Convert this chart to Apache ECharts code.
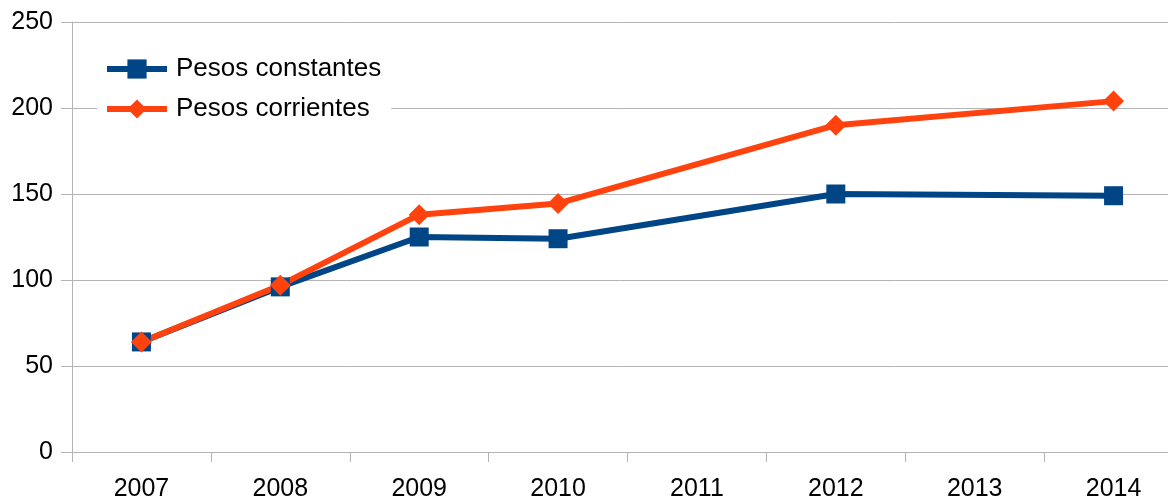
<!DOCTYPE html>
<html><head><meta charset="utf-8">
<script src="https://cdn.jsdelivr.net/npm/echarts@6/dist/echarts.min.js"></script>
<style>html,body{margin:0;padding:0;background:#fff}#c{width:1168px;height:498px}</style>
</head><body><div id="c"></div>
<script>
const years = ['2007','2008','2009','2010','2011','2012','2013','2014'];
const pesosConstantes = [64, 96, 125, 124, null, 150, null, 149];
const pesosCorrientes = [64, 97, 138, 144.5, null, 190, null, 204];
const yTicks = {min: 0, max: 250, interval: 50};

const chart = echarts.init(document.getElementById('c'));
const font = 'Liberation Sans';
chart.setOption({
  animation: false,
  grid: {left: 72, top: 22, bottom: 46, right: -15, containLabel: false, outerBoundsMode: 'none'},
  legend: {
    left: 97, top: 50, orient: 'vertical',
    backgroundColor: '#fff', padding: [6, 10, 6, 7],
    itemWidth: 60, itemHeight: 24, itemGap: 14,
    lineStyle: {width: 6},
    textStyle: {fontFamily: font, fontSize: 26, lineHeight: 24, color: '#000', padding: [0,0,0,4]},
    data: ['Pesos constantes', 'Pesos corrientes']
  },
  xAxis: {
    type: 'category', data: years, boundaryGap: true,
    axisLine: {lineStyle: {color: '#b3b3b3', width: 1}},
    axisTick: {show: true, length: 10, lineStyle: {color: '#b3b3b3'}},
    axisLabel: {fontFamily: font, fontSize: 25, color: '#000', margin: 25}
  },
  yAxis: {
    type: 'value', min: yTicks.min, max: yTicks.max, interval: yTicks.interval,
    axisLine: {show: true, lineStyle: {color: '#b3b3b3', width: 1}},
    axisTick: {show: true, length: 11, lineStyle: {color: '#b3b3b3'}},
    splitLine: {lineStyle: {color: '#b3b3b3', width: 1}},
    axisLabel: {fontFamily: font, fontSize: 25, color: '#000', margin: 19}
  },
  series: [
    {name: 'Pesos constantes', type: 'line', data: pesosConstantes, connectNulls: true,
     symbol: 'rect', symbolSize: 19, color: '#004586',
     lineStyle: {width: 6, color: '#004586'}, itemStyle: {color: '#004586'}},
    {name: 'Pesos corrientes', type: 'line', data: pesosCorrientes, connectNulls: true,
     symbol: 'diamond', symbolSize: [21, 21], color: '#ff420e',
     lineStyle: {width: 6, color: '#ff420e'}, itemStyle: {color: '#ff420e'}}
  ]
});
</script></body></html>
